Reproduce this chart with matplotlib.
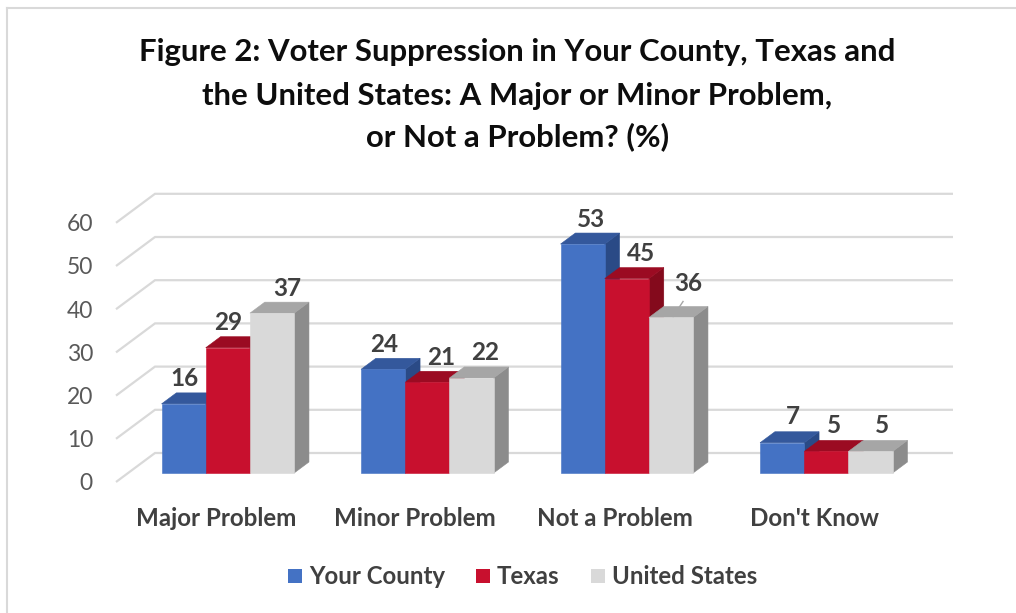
import matplotlib
matplotlib.use("Agg")
import matplotlib.pyplot as plt
from matplotlib.patches import Polygon, Patch
from matplotlib.lines import Line2D

# ---- data ----
categories = ["Major Problem", "Minor Problem", "Not a Problem", "Don't Know"]
series_names = ["Your County", "Texas", "United States"]
your_county = [16, 24, 53, 7]
texas = [29, 21, 45, 5]
united_states = [37, 22, 36, 5]
y_ticks = [0, 10, 20, 30, 40, 50, 60]
title_lines = [
    "Figure 2: Voter Suppression in Your County, Texas and",
    "the United States: A Major or Minor Problem,",
    "or Not a Problem? (%)",
]

# ---- style ----
FONT = ["Lato", "DejaVu Sans"]
front_colors = ["#4472C4", "#C8102E", "#D9D9D9"]
top_colors = ["#34589C", "#9B0B22", "#A6A6A6"]
side_colors = ["#2A4A86", "#840A1C", "#8C8C8C"]
grid_color = "#D9D9D9"

# label nudges in pixels (horizontal) and lift above the front top edge
label_dx_px = [[1, 1, 8, 11], [0, 14, 14, 8], [15, 14, 17, 11]]
label_lift_px = [[27, 27, 27, 28], [27, 27, 27, 28], [27, 27, 36, 28]]

# ---- geometry of the oblique 3-D projection ----
FIG_W, FIG_H = 1016, 613
CAT_PX = 199.5          # pixels per category on the front plane
VAL_PX = 4.32           # pixels per percentage point
ORIGIN_PX = (116, 131)  # front-left floor corner, from the bottom-left of the figure
DEPTH_PX = (39, 29)     # offset from front plane to back wall
BAR_F0, BAR_F1 = 0.31, 0.69   # depth range occupied by the bars
BAR_W = 44.2 / CAT_PX

fig = plt.figure(figsize=(FIG_W / 100, FIG_H / 100), dpi=100)
ax = fig.add_axes([0, 0, 1, 1])
ax.set_xlim(-ORIGIN_PX[0] / CAT_PX, (FIG_W - ORIGIN_PX[0]) / CAT_PX)
ax.set_ylim(-ORIGIN_PX[1] / VAL_PX, (FIG_H - ORIGIN_PX[1]) / VAL_PX)
ax.axis("off")

ddx = DEPTH_PX[0] / CAT_PX
ddy = DEPTH_PX[1] / VAL_PX


def proj(u, v, f):
    """Project (category position, value, depth fraction) onto the page."""
    return (u + f * ddx, v + f * ddy)


n_cat = len(categories)

# side wall and back wall gridlines, with value ticks
for t in y_ticks:
    p0 = proj(0, t, 0)
    p1 = proj(0, t, 1)
    p2 = proj(n_cat, t, 1)
    ax.plot([p0[0], p1[0], p2[0]], [p0[1], p1[1], p2[1]], color=grid_color,
            lw=1.6, solid_capstyle="butt", solid_joinstyle="miter", zorder=1)
    ax.text(p0[0] - 23 / CAT_PX, t, str(t), ha="right", va="center_baseline",
            fontsize=16.5, color="#595959", family=FONT)

# bars
series = [your_county, texas, united_states]
for i in range(n_cat):
    for j, vals in enumerate(series):
        v = vals[i]
        left = i + 0.5 + (j - 1.5) * BAR_W
        right = left + BAR_W
        z = 2 + i * 10 + j * 3
        side = [proj(right, 0, BAR_F0), proj(right, v, BAR_F0),
                proj(right, v, BAR_F1), proj(right, 0, BAR_F1)]
        top = [proj(left, v, BAR_F0), proj(right, v, BAR_F0),
               proj(right, v, BAR_F1), proj(left, v, BAR_F1)]
        front = [proj(left, 0, BAR_F0), proj(right, 0, BAR_F0),
                 proj(right, v, BAR_F0), proj(left, v, BAR_F0)]
        ax.add_patch(Polygon(side, closed=True, fc=side_colors[j],
                             ec=side_colors[j], lw=0.4, zorder=z))
        ax.add_patch(Polygon(top, closed=True, fc=top_colors[j],
                             ec=top_colors[j], lw=0.4, zorder=z + 1))
        ax.add_patch(Polygon(front, closed=True, fc=front_colors[j],
                             ec=front_colors[j], lw=0.4, zorder=z + 2))

        # value label above the bar
        cx, cy = proj((left + right) / 2, v, BAR_F0)
        lx = cx + label_dx_px[j][i] / CAT_PX
        ly = cy + label_lift_px[j][i] / VAL_PX
        ax.text(lx, ly, f"{v}", ha="center", va="center_baseline",
                fontsize=17.5, fontweight="bold", color="#404040",
                family=FONT, zorder=100)
        if label_lift_px[j][i] > 30:
            # leader line from a label that was lifted away from its bar
            ax.plot([lx - 5 / CAT_PX, lx - 15 / CAT_PX],
                    [ly - 20 / VAL_PX, ly - 35 / VAL_PX],
                    color="#A6A6A6", lw=1.0, zorder=100)

# category labels along the front edge
for i, cat in enumerate(categories):
    ax.text(i + 0.5, -34 / VAL_PX, cat, ha="center", va="center_baseline",
            fontsize=17.4, fontweight="bold", color="#404040", family=FONT)

# title, one line at a time
for k, (line, ypx) in enumerate(zip(title_lines, [50, 93, 134])):
    fig.text(517.5 / FIG_W, 1 - ypx / FIG_H, line, ha="center",
             va="center_baseline", fontsize=22.4, fontweight="bold",
             color="#0D0D0D", family=FONT)

# legend
handles = [Patch(facecolor=c, edgecolor="none") for c in front_colors]
fig.legend(handles, series_names, loc="center",
           bbox_to_anchor=(522.5 / FIG_W, 1 - 577 / FIG_H), ncol=3,
           frameon=False, handlelength=0.58, handleheight=0.58,
           handletextpad=0.29, columnspacing=1.29,
           prop={"family": FONT, "weight": "bold", "size": 17.3},
           labelcolor="#404040")

# chart frame (left and top edges)
fig.add_artist(Line2D([7 / FIG_W, 7 / FIG_W], [0, 1 - 8 / FIG_H],
                      transform=fig.transFigure, color="#D9D9D9", lw=1.5))
fig.add_artist(Line2D([7 / FIG_W, 1], [1 - 8 / FIG_H, 1 - 8 / FIG_H],
                      transform=fig.transFigure, color="#D9D9D9", lw=1.5))

fig.savefig("out.png", dpi=100, facecolor="white")
